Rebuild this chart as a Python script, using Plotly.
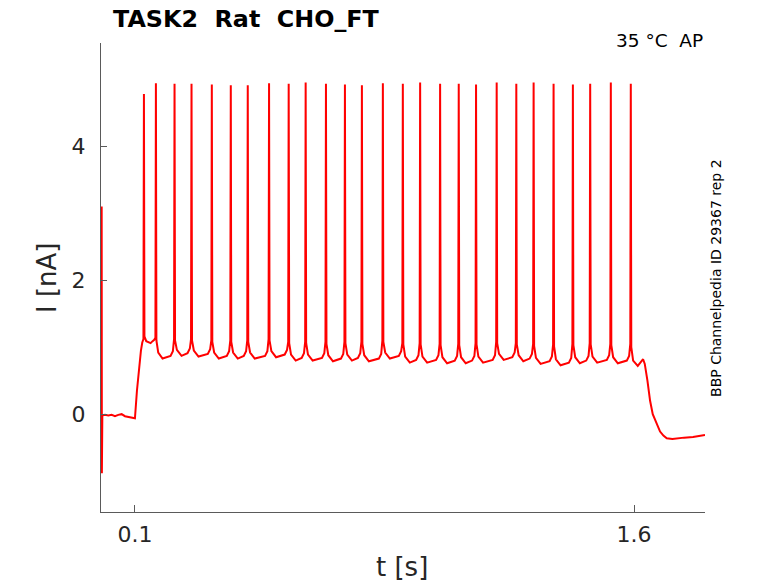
import plotly.graph_objects as go

rest_t = [0.0, 0.0006, 0.002, 0.01, 0.02, 0.03, 0.04, 0.05, 0.06, 0.07, 0.08, 0.09, 0.1, 0.106, 0.113]
rest_i = [3.1, -0.88, -0.02, -0.01, -0.02, -0.01, -0.03, -0.01, 0.0, -0.03, -0.04, -0.05, -0.06, 0.35, 0.72]

spike_t = [0.127, 0.163, 0.219, 0.270, 0.331, 0.388, 0.439, 0.503, 0.562, 0.613, 0.674, 0.731, 0.782,
           0.845, 0.905, 0.957, 1.017, 1.073, 1.125, 1.187, 1.246, 1.298, 1.358, 1.416, 1.468, 1.530, 1.590]
spike_peak = [4.78, 4.94, 4.93, 4.93, 4.92, 4.91, 4.91, 4.94, 4.93, 4.95, 4.93, 4.92, 4.91,
              4.94, 4.93, 4.95, 4.93, 4.93, 4.92, 4.95, 4.93, 4.95, 4.93, 4.92, 4.93, 4.95, 4.93]
pre_i = [1.12, 1.14, 1.12, 1.12, 1.10, 1.10, 1.10, 1.12, 1.08, 1.08, 1.08, 1.08, 1.08,
         1.10, 1.06, 1.06, 1.05, 1.05, 1.06, 1.08, 1.06, 1.05, 1.04, 1.05, 1.06, 1.05, 1.05]
post_i = [1.16, 1.10, 1.10, 1.10, 1.08, 1.08, 1.08, 1.10, 1.06, 1.06, 1.05, 1.06, 1.05,
          1.08, 1.04, 1.04, 1.03, 1.03, 1.04, 1.06, 1.04, 1.02, 1.01, 1.03, 1.04, 1.03, 1.00]
fall_i = [1.09, 0.92, 0.96, 0.95, 0.92, 0.92, 0.92, 0.94, 0.89, 0.89, 0.88, 0.89, 0.88,
          0.92, 0.86, 0.86, 0.85, 0.85, 0.86, 0.90, 0.88, 0.84, 0.82, 0.85, 0.86, 0.85, 0.80]
trough_t = [0.147, 0.183, 0.240, 0.291, 0.352, 0.409, 0.460, 0.524, 0.583, 0.634, 0.695, 0.752, 0.803,
            0.866, 0.926, 0.978, 1.038, 1.094, 1.146, 1.208, 1.267, 1.319, 1.379, 1.437, 1.489, 1.551, 1.611]
trough_i = [1.06, 0.83, 0.87, 0.86, 0.83, 0.83, 0.83, 0.85, 0.80, 0.80, 0.79, 0.80, 0.79,
            0.83, 0.77, 0.77, 0.76, 0.76, 0.77, 0.81, 0.79, 0.75, 0.73, 0.76, 0.77, 0.76, 0.72]
knee_t = [0.118, 0.153, 0.207, 0.258, 0.319, 0.376, 0.427, 0.491, 0.550, 0.601, 0.662, 0.719, 0.770,
          0.833, 0.893, 0.945, 1.005, 1.061, 1.113, 1.175, 1.234, 1.286, 1.346, 1.404, 1.456, 1.518, 1.578]
knee_i = [0.95, 1.09, 0.87, 0.91, 0.90, 0.87, 0.87, 0.87, 0.89, 0.84, 0.84, 0.83, 0.84,
          0.83, 0.87, 0.81, 0.81, 0.80, 0.80, 0.81, 0.85, 0.83, 0.79, 0.77, 0.80, 0.81, 0.80]
late_i = [1.07, 1.11, 0.94, 0.98, 0.97, 0.94, 0.94, 0.94, 0.96, 0.91, 0.91, 0.90, 0.91,
          0.90, 0.94, 0.88, 0.88, 0.87, 0.87, 0.88, 0.92, 0.90, 0.86, 0.84, 0.87, 0.88, 0.87]

tail_t = [1.627, 1.632, 1.640, 1.648, 1.656, 1.663, 1.670, 1.678, 1.688, 1.698, 1.715, 1.728, 1.750, 1.777, 1.795, 1.813]
tail_i = [0.82, 0.75, 0.50, 0.20, 0.00, -0.09, -0.18, -0.26, -0.32, -0.36, -0.37, -0.36, -0.35, -0.34, -0.32, -0.31]

# shape of a spike around its peak time
SPIKE_BASE = 0.0015
LATE_DT = 0.005
FALL_DT = 0.007

t = list(rest_t)
cur = list(rest_i)
for k in range(len(spike_t)):
    st = spike_t[k]
    t += [knee_t[k], st - LATE_DT, st - SPIKE_BASE, st, st + SPIKE_BASE, st + FALL_DT, trough_t[k]]
    cur += [knee_i[k], late_i[k], pre_i[k], spike_peak[k], post_i[k], fall_i[k], trough_i[k]]
t += tail_t
cur += tail_i

FONT = "DejaVu Sans"
AXIS = "#5a5a5a"
TXT = "#262626"
SP = "\u00a0"

fig = go.Figure()
fig.add_trace(go.Scatter(x=t, y=cur, mode='lines', line=dict(color='#ff0000', width=2), showlegend=False))

# page body has an 8px margin, so the figure is 8px smaller than the window
fig.update_layout(
    width=770, height=575,
    margin=dict(l=93, r=73, t=35, b=71),
    paper_bgcolor='white', plot_bgcolor='white',
    font=dict(family=FONT, color=TXT),
    xaxis=dict(range=[-0.002, 1.813], tickvals=[0.1, 1.6], ticktext=['0.1', '1.6'],
               ticks='inside', ticklen=7, tickcolor=AXIS, tickwidth=1, ticklabelstandoff=3,
               showline=True, linecolor=AXIS, linewidth=1, showgrid=False, zeroline=False,
               tickfont=dict(size=22, color=TXT, family=FONT)),
    yaxis=dict(range=[-1.46, 5.54], tickvals=[0, 2, 4], ticktext=['0', '2', '4'],
               ticks='inside', ticklen=6, tickcolor=AXIS, tickwidth=1, ticklabelstandoff=10,
               showline=True, linecolor=AXIS, linewidth=1, showgrid=False, zeroline=False,
               tickfont=dict(size=22, color=TXT, family=FONT)),
)

fig.add_annotation(text='<b>TASK2' + SP * 2 + 'Rat' + SP * 2 + 'CHO_FT</b>', xref='paper', yref='paper',
                   x=0.017, y=1.0 + 24 / 469, xanchor='left', yanchor='middle', showarrow=False,
                   font=dict(size=23.8, color='black', family=FONT))
fig.add_annotation(text='35 °C' + SP * 2 + 'AP', xref='paper', yref='paper', x=1.0, y=1.0 + 2 / 469,
                   xanchor='right', yanchor='middle', showarrow=False,
                   font=dict(size=18.5, color='black', family=FONT))
fig.add_annotation(text='BBP Channelpedia ID 29367 rep 2', xref='paper', yref='paper',
                   x=1.0 + 11 / 604, y=0.499, xanchor='center', yanchor='middle', textangle=-90,
                   showarrow=False, font=dict(size=14, color='black', family=FONT))
fig.add_annotation(text='I [nA]', xref='paper', yref='paper', x=-54 / 604, y=0.499,
                   xanchor='center', yanchor='middle', textangle=-90, showarrow=False,
                   font=dict(size=26, color=TXT, family=FONT))
fig.add_annotation(text='t [s]', xref='paper', yref='paper', x=0.498, y=-55 / 469,
                   xanchor='center', yanchor='middle', showarrow=False,
                   font=dict(size=26, color=TXT, family=FONT))

fig.write_html("out.html")
